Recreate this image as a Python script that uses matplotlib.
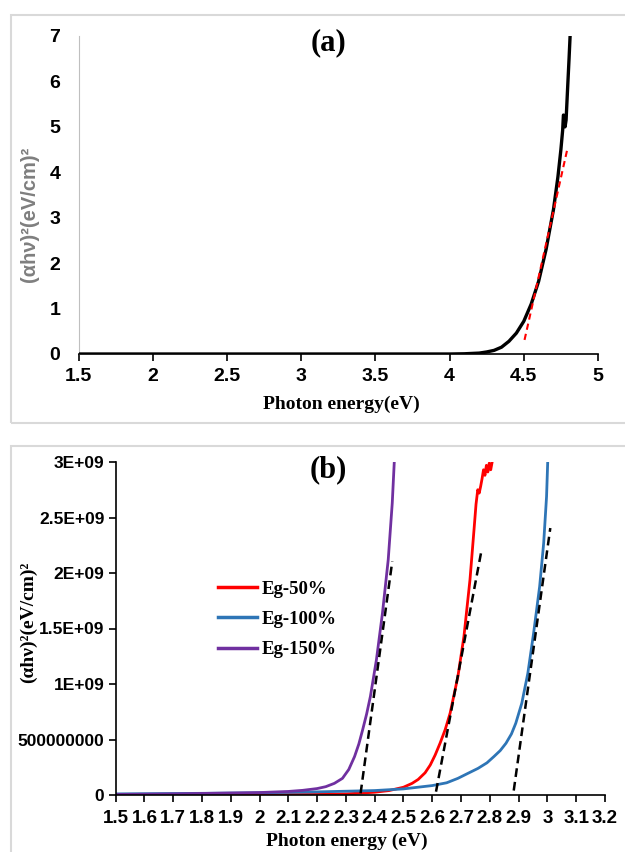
import numpy as np
import matplotlib
matplotlib.use("Agg")
import matplotlib.pyplot as plt
from matplotlib.patches import Rectangle

SANS = "Liberation Sans"
SERIF = "Liberation Serif"

# ---- panel (a) data ----
energy_a = [1.5, 2.0, 2.5, 3.0, 3.5, 3.8, 4.0, 4.1, 4.2, 4.25, 4.3, 4.35, 4.4,
            4.45, 4.5, 4.55, 4.6, 4.65, 4.7, 4.73, 4.75, 4.762, 4.767, 4.772,
            4.778, 4.785, 4.796, 4.805, 4.812]
absorb_a = [0.0, 0.0, 0.0, 0.0, 0.0, 0.0, 0.0, 0.005, 0.02, 0.045, 0.08, 0.15,
            0.28, 0.46, 0.72, 1.10, 1.60, 2.30, 3.18, 3.9, 4.5, 4.93, 5.26,
            5.25, 5.0, 5.15, 5.9, 6.5, 7.0]
fit_a_x = [4.505, 4.792]
fit_a_y = [0.31, 4.49]

# ---- panel (b) data (values in 1e9) ----
e_150 = [1.5, 1.7, 1.9, 2.0, 2.1, 2.15, 2.2, 2.23, 2.26, 2.288, 2.31, 2.33,
         2.345, 2.358, 2.372, 2.385, 2.406, 2.427, 2.447, 2.461, 2.468]
v_150 = [0.005, 0.01, 0.018, 0.022, 0.032, 0.042, 0.058, 0.075, 0.105, 0.15,
         0.23, 0.346, 0.46, 0.586, 0.73, 0.887, 1.218, 1.639, 2.12, 2.63, 3.0]
e_50 = [1.5, 2.0, 2.2, 2.3, 2.4, 2.45, 2.5, 2.53, 2.551, 2.575, 2.593, 2.61,
        2.627, 2.645, 2.662, 2.689, 2.710, 2.731, 2.745, 2.752, 2.758, 2.763,
        2.768, 2.773, 2.778, 2.783, 2.788, 2.793, 2.798, 2.803, 2.808]
v_50 = [0.0, 0.002, 0.005, 0.01, 0.025, 0.04, 0.07, 0.105, 0.14, 0.2, 0.27,
        0.36, 0.466, 0.59, 0.737, 1.067, 1.428, 1.94, 2.39, 2.62, 2.75, 2.72,
        2.78, 2.85, 2.93, 2.88, 2.97, 2.91, 2.99, 2.93, 3.0]
e_100 = [1.5, 1.8, 2.0, 2.2, 2.4, 2.5, 2.6, 2.65, 2.689, 2.72, 2.759, 2.79,
         2.814, 2.836, 2.856, 2.875, 2.89, 2.911, 2.932, 2.952, 2.973, 2.987,
         2.997, 3.001]
v_100 = [0.01, 0.015, 0.02, 0.028, 0.04, 0.055, 0.085, 0.11, 0.15, 0.19, 0.24,
         0.29, 0.346, 0.4, 0.466, 0.55, 0.646, 0.827, 1.097, 1.458, 1.879,
         2.27, 2.69, 3.0]
fits_b = [([2.351, 2.461], [0.015, 2.105]),
          ([2.613, 2.770], [0.03, 2.19]),
          ([2.883, 3.010], [0.04, 2.405])]

ticks_a_x = [1.5, 2, 2.5, 3, 3.5, 4, 4.5, 5]
ticks_a_y = [0, 1, 2, 3, 4, 5, 6, 7]
ticks_b_x = [1.5, 1.6, 1.7, 1.8, 1.9, 2.0, 2.1, 2.2, 2.3, 2.4, 2.5, 2.6, 2.7,
             2.8, 2.9, 3.0, 3.1, 3.2]
ticks_b_y = [0, 0.5e9, 1e9, 1.5e9, 2e9, 2.5e9, 3e9]
labels_b_y = ["0", "500000000", "1E+09", "1.5E+09", "2E+09", "2.5E+09", "3E+09"]

RED = "#ff0000"
BLUE = "#2e75b6"
PURPLE = "#7030a0"
FRAME = "#d9d9d9"

W, H = 625, 852
fig = plt.figure(figsize=(W / 100, H / 100), dpi=100)

# outer frames
fig.add_artist(Rectangle((10.5 / W, 1 - 422.7 / H), 700 / W, (422.7 - 15) / H,
                         transform=fig.transFigure, fill=False,
                         edgecolor=FRAME, linewidth=1.5))
fig.add_artist(Rectangle((10.5 / W, -0.1), 700 / W, 1 - 446 / H + 0.1,
                         transform=fig.transFigure, fill=False,
                         edgecolor=FRAME, linewidth=1.5))

# =============================================================================
# (a)
# =============================================================================
ax = fig.add_axes([78.5 / W, 1 - 354 / H, (598 - 78.5) / W, (354 - 36) / H])
ax.plot(energy_a, absorb_a, color="black", linewidth=2.4, zorder=3)
ax.plot(fit_a_x, fit_a_y, color=RED, linestyle=(0, (3, 2)), linewidth=1.5,
        zorder=4)
ax.set_xlim(1.5, 5)
ax.set_ylim(0, 7)
ax.set_xticks(ticks_a_x)
ax.set_xticklabels([f"{t:g}" for t in ticks_a_x])
ax.set_yticks(ticks_a_y)
for s in ("top", "right"):
    ax.spines[s].set_visible(False)
ax.spines["left"].set_color("#bfbfbf")
ax.spines["bottom"].set_color("black")
ax.spines["bottom"].set_linewidth(1.2)
ax.tick_params(axis="x", direction="out", length=5, width=1.2, pad=5)
ax.tick_params(axis="y", length=0, pad=13)
for lab in ax.get_xticklabels() + ax.get_yticklabels():
    lab.set_fontfamily(SANS)
    lab.set_fontweight("bold")
    lab.set_fontsize(14)

fig.text(329 / W, 1 - 43 / H, "(a)", ha="center", va="center",
         fontfamily=SERIF, fontweight="bold", fontsize=22)
fig.text(30 / W, 1 - 214 / H, "(αhν)²(eV/cm)²", rotation=90, ha="center",
         va="center", fontfamily=SANS, fontweight="bold", fontsize=14.5,
         color="#7f7f7f")
fig.text(341 / W, 1 - 404 / H, "Photon energy(eV)", ha="center", va="center",
         fontfamily=SERIF, fontweight="bold", fontsize=14)

# =============================================================================
# (b)
# =============================================================================
bx = fig.add_axes([115.6 / W, 1 - 795 / H, (605 - 115.6) / W, (795 - 462) / H])
bx.plot(e_50, np.array(v_50) * 1e9, color=RED, linewidth=2, label="Eg-50%")
bx.plot(e_100, np.array(v_100) * 1e9, color=BLUE, linewidth=2, label="Eg-100%")
bx.plot(e_150, np.array(v_150) * 1e9, color=PURPLE, linewidth=2,
        label="Eg-150%")
for fx, fy in fits_b:
    bx.plot(fx, np.array(fy) * 1e9, color="black", linestyle=(0, (3.5, 2)),
            linewidth=1.8, zorder=4)
bx.set_xlim(1.5, 3.2)
bx.set_ylim(0, 3e9)
bx.set_xticks(ticks_b_x)
bx.set_xticklabels([f"{t:g}" for t in ticks_b_x])
bx.set_yticks(ticks_b_y)
bx.set_yticklabels(labels_b_y)
for s in ("top", "right"):
    bx.spines[s].set_visible(False)
bx.spines["left"].set_linewidth(1.2)
bx.spines["bottom"].set_linewidth(1.2)
bx.tick_params(axis="both", direction="out", length=5, width=1.2)
bx.tick_params(axis="x", pad=6, labelsize=13.5)
bx.tick_params(axis="y", pad=3, labelsize=12.5)
for lab in bx.get_xticklabels() + bx.get_yticklabels():
    lab.set_fontfamily(SANS)
    lab.set_fontweight("bold")

leg = bx.legend(loc="upper left", bbox_to_anchor=(0.175, 0.695), frameon=False,
                handlelength=2.1, handletextpad=0.2, labelspacing=0.7,
                prop={"family": SERIF, "weight": "bold", "size": 13.5})
for line in leg.get_lines():
    line.set_linewidth(2.5)

fig.text(328 / W, 1 - 470 / H, "(b)", ha="center", va="center",
         fontfamily=SERIF, fontweight="bold", fontsize=22)
fig.text(28 / W, 1 - 622 / H, "(αhν)²(eV/cm)²", rotation=90, ha="center",
         va="center", fontfamily=SERIF, fontweight="bold", fontsize=14)
fig.text(347 / W, 1 - 841 / H, "Photon energy (eV)", ha="center", va="center",
         fontfamily=SERIF, fontweight="bold", fontsize=14)

fig.savefig("out.png", dpi=100)
